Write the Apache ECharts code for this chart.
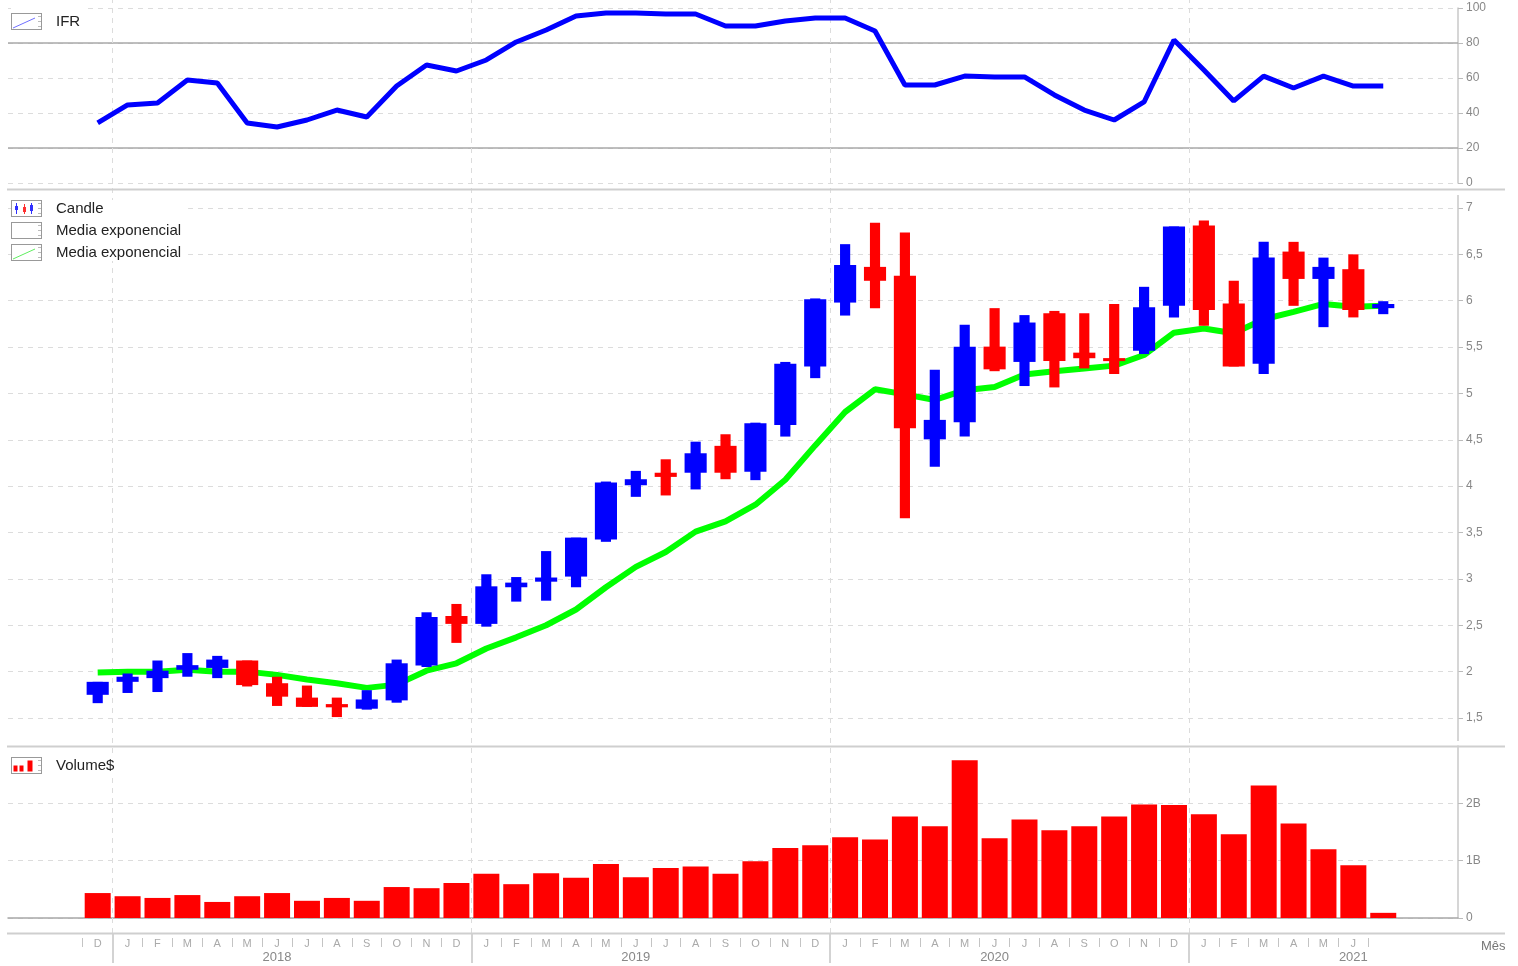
<!DOCTYPE html>
<html>
<head>
<meta charset="utf-8">
<title>IFR / Candle / Volume</title>
<script src="https://cdn.jsdelivr.net/npm/echarts@6/dist/echarts.min.js"></script>
<style>
  html, body { margin: 0; padding: 0; background: #fff; }
  #chart { width: 1518px; height: 966px; }
</style>
</head>
<body>
<div id="chart"></div>
<script>
// meses (dez/2017 .. jul/2021)
const months = [
  '2017-12',
  '2018-01', '2018-02', '2018-03', '2018-04', '2018-05', '2018-06',
  '2018-07', '2018-08', '2018-09', '2018-10', '2018-11', '2018-12',
  '2019-01', '2019-02', '2019-03', '2019-04', '2019-05', '2019-06',
  '2019-07', '2019-08', '2019-09', '2019-10', '2019-11', '2019-12',
  '2020-01', '2020-02', '2020-03', '2020-04', '2020-05', '2020-06',
  '2020-07', '2020-08', '2020-09', '2020-10', '2020-11', '2020-12',
  '2021-01', '2021-02', '2021-03', '2021-04', '2021-05', '2021-06',
  '2021-07'
]
// [abertura, fechamento, minima, maxima]
const candles = [
  [1.75, 1.89, 1.66, 1.89], [1.89, 1.945, 1.77, 1.98], [1.93, 2.01, 1.78, 2.12],
  [2.02, 2.07, 1.945, 2.20], [2.04, 2.13, 1.93, 2.17], [2.12, 1.855, 1.84, 2.12],
  [1.875, 1.73, 1.63, 1.945], [1.72, 1.62, 1.62, 1.85], [1.65, 1.615, 1.51, 1.72],
  [1.60, 1.70, 1.59, 1.80], [1.69, 2.09, 1.665, 2.13], [2.065, 2.59, 2.05, 2.64],
  [2.60, 2.515, 2.31, 2.73], [2.515, 2.92, 2.485, 3.05], [2.91, 2.96, 2.755, 3.02],
  [2.97, 3.015, 2.765, 3.30], [3.025, 3.445, 2.91, 3.445], [3.425, 4.04, 3.40, 4.05],
  [4.01, 4.075, 3.885, 4.165], [4.145, 4.10, 3.90, 4.29], [4.145, 4.355, 3.965, 4.48],
  [4.435, 4.145, 4.075, 4.56], [4.155, 4.68, 4.065, 4.685], [4.66, 5.32, 4.535, 5.34],
  [5.29, 6.015, 5.165, 6.025], [5.98, 6.385, 5.84, 6.61], [6.365, 6.215, 5.92, 6.84],
  [6.27, 4.625, 3.655, 6.735], [4.505, 4.715, 4.21, 5.255], [4.69, 5.505, 4.535, 5.74],
  [5.505, 5.26, 5.24, 5.92], [5.34, 5.765, 5.08, 5.845], [5.865, 5.35, 5.065, 5.89],
  [5.44, 5.38, 5.27, 5.865], [5.38, 5.35, 5.21, 5.965], [5.46, 5.93, 5.425, 6.15],
  [5.945, 6.80, 5.82, 6.80], [6.81, 5.90, 5.73, 6.865], [5.97, 5.29, 5.29, 6.215],
  [5.32, 6.465, 5.21, 6.635], [6.53, 6.235, 5.945, 6.635], [6.235, 6.365, 5.715, 6.465],
  [6.34, 5.90, 5.82, 6.50], [5.92, 5.965, 5.855, 5.995]
]
const ema = [
  1.99, 2.0, 2.0, 2.02, 2.0, 2.0, 1.965, 1.915, 1.875, 1.825, 1.86,
  2.01, 2.09, 2.25, 2.37, 2.5, 2.67, 2.91, 3.13, 3.29, 3.51, 3.62,
  3.80, 4.07, 4.44, 4.80, 5.045, 4.99, 4.93, 5.035, 5.07, 5.205, 5.24,
  5.27, 5.30, 5.415, 5.655, 5.70, 5.65, 5.80, 5.88, 5.965, 5.935, 5.945
]
const ifr = [
  34.3, 44.6, 45.7, 58.9, 57.1, 34.3, 32, 36, 41.7, 37.7, 55.4,
  67.4, 64, 70.3, 80.6, 87.4, 95.4, 97.1, 97.1, 96.6, 96.6, 89.7,
  89.7, 92.6, 94.3, 94.3, 86.9, 56, 56, 61.1, 60.6, 60.6, 50.3,
  41.7, 36, 46.3, 81.7, 64.6, 46.9, 61.1, 54.3, 61.1, 55.4, 55.4
]
// volume em milhoes de R$
const volume = [
  435, 380, 350, 400, 280, 380, 435, 300, 350, 300, 540,
  520, 610, 770, 590, 780, 700, 940, 710, 870, 900, 770,
  990, 1220, 1270, 1410, 1370, 1770, 1600, 2750, 1390, 1720, 1530,
  1600, 1770, 1980, 1970, 1810, 1460, 2310, 1650, 1200, 920, 90
]
const ifrLevels = [20, 80]
const monthLetters = 'JFMAMJJASOND'
const labelMonths = months.slice(0, 43)   // o mes corrente nao tem rotulo

const FONT = 'Liberation Sans, Arial, sans-serif'
const BLUE = '#0000ff', RED = '#ff0000', GREEN = '#00ff00'
const X_MIN = -3, X_MAX = 45.5
const LEFT = 8, RIGHT = 60

const yearBounds = months
  .map((m, i) => m.endsWith('-01') ? i - 0.5 : null)
  .filter(v => v !== null)

function icon(inner) {
  const svg = "<svg xmlns='http://www.w3.org/2000/svg' width='40' height='17'>" +
    "<rect x='0.5' y='0.5' width='30' height='16' fill='white' stroke='#999'/>" +
    "<path d='M27 3.5h3M27 8.5h3M27 13.5h3' stroke='#bbb'/>" + inner + "</svg>"
  return 'image://data:image/svg+xml;charset=utf-8,' + encodeURIComponent(svg)
}
const icons = {
  ifr: icon("<line x1='2' y1='15' x2='24' y2='5' stroke='#7070ff'/>"),
  candle: icon(
    "<rect x='4' y='6' width='3' height='4' fill='#3030ff'/><path d='M5.5 3v11' stroke='#3030ff'/>" +
    "<rect x='12' y='7' width='3' height='5' fill='#ff3030'/><path d='M13.5 4v10' stroke='#ff3030'/>" +
    "<rect x='19' y='5' width='3' height='6' fill='#3030ff'/><path d='M20.5 3v11' stroke='#3030ff'/>"),
  empty: icon(''),
  ema: icon("<line x1='2' y1='15' x2='24' y2='5' stroke='#60ee60'/>"),
  volume: icon(
    "<rect x='2.5' y='8.5' width='4' height='6' fill='red'/>" +
    "<rect x='8.5' y='8.5' width='4' height='6' fill='red'/>" +
    "<rect x='16.5' y='3.5' width='5' height='11' fill='red'/>")
}

function renderCandle(params, api) {
  const i = api.value(0)
  const open = api.value(1), close = api.value(2)
  const pOpen = api.coord([i, open])
  const pClose = api.coord([i, close])
  const pLow = api.coord([i, api.value(3)])
  const pHigh = api.coord([i, api.value(4)])
  const unit = api.size([1, 0])[0]
  const bodyW = unit * 0.74
  const wickW = unit * 0.34
  const x = pOpen[0]
  let top = Math.min(pOpen[1], pClose[1])
  let bottom = Math.max(pOpen[1], pClose[1])
  if (bottom - top < 3) {
    const mid = (top + bottom) / 2
    top = mid - 1.5
    bottom = mid + 1.5
  }
  const color = close >= open ? BLUE : RED
  return {
    type: 'group',
    children: [
      { type: 'rect', shape: { x: x - wickW / 2, y: pHigh[1], width: wickW, height: pLow[1] - pHigh[1] }, style: { fill: color } },
      { type: 'rect', shape: { x: x - bodyW / 2, y: top, width: bodyW, height: bottom - top }, style: { fill: color } }
    ]
  }
}

const splitDash = { show: true, lineStyle: { color: '#dcdcdc', type: [5, 5], width: 1 } }
const rightAxisBase = {
  type: 'value',
  position: 'right',
  axisLine: { show: true, onZero: false, lineStyle: { color: '#c8c8c8', width: 1.5 } },
  axisTick: { show: true, length: 5, lineStyle: { color: '#bbb' } },
  axisLabel: { color: '#888', fontSize: 12, margin: 8, fontFamily: FONT },
  splitLine: splitDash
}
const hiddenValueX = (gridIndex) => ({ type: 'value', gridIndex, min: X_MIN, max: X_MAX, show: false })
const hiddenY = (gridIndex) => ({ type: 'value', gridIndex, min: 0, max: 1, show: false })

const legendBase = {
  orient: 'vertical',
  left: 11,
  itemWidth: 40,
  itemHeight: 17,
  itemGap: 5,
  selectedMode: false,
  backgroundColor: '#fff',
  textStyle: { color: '#222', fontSize: 15, fontFamily: FONT }
}

const option = {
  animation: false,
  textStyle: { fontFamily: FONT },
  title: {
    text: 'Mês', left: 1481, top: 940, padding: 0,
    textStyle: { color: '#777', fontSize: 13, fontWeight: 'normal', fontFamily: FONT }
  },
  legend: [
    Object.assign({}, legendBase, { top: 7, padding: [6, 7, 6, 0], data: [{ name: 'IFR', icon: icons.ifr }] }),
    Object.assign({}, legendBase, {
      top: 200, padding: [0, 7, 0, 0],
      data: [
        { name: 'Candle', icon: icons.candle },
        { name: 'Media exponencial (2)', icon: icons.empty },
        { name: 'Media exponencial', icon: icons.ema }
      ],
      formatter: name => name.replace(' (2)', '')
    }),
    Object.assign({}, legendBase, { top: 757, padding: [0, 7, 0, 0], data: [{ name: 'Volume$', icon: icons.volume }] })
  ],
  grid: [
    { left: LEFT, right: RIGHT, top: 8, height: 175 },     // IFR
    { left: LEFT, right: RIGHT, top: 208, height: 510 },   // candles
    { left: LEFT, right: RIGHT, top: 746, height: 172 },   // volume
    { left: LEFT, right: RIGHT, top: 0, height: 933 },     // linhas de ano
    { left: LEFT, right: RIGHT, top: 934, height: 29 },    // linhas de ano no eixo
    { left: 82.74, right: 149.7, top: 936, height: 2 }     // rotulos dos meses
  ],
  xAxis: [
    hiddenValueX(0),
    hiddenValueX(1),
    {
      type: 'value', gridIndex: 2, min: X_MIN, max: X_MAX,
      axisLine: { show: true, onZero: false, lineStyle: { color: '#a8a8a8', width: 1.5 } },
      axisTick: { show: false }, axisLabel: { show: false }, splitLine: { show: false }
    },
    hiddenValueX(3),
    hiddenValueX(4),
    {
      type: 'category', gridIndex: 5, position: 'bottom', data: labelMonths,
      axisLine: { show: false },
      axisTick: { show: true, length: 9, interval: (idx, val) => !val.endsWith('-01'), lineStyle: { color: '#c4c4c4' } },
      axisLabel: {
        interval: 0, margin: 0, color: '#aaa', fontSize: 11, fontFamily: FONT,
        formatter: v => monthLetters[Number(v.slice(5)) - 1]
      },
      splitLine: { show: false }
    },
    {
      type: 'category', gridIndex: 5, position: 'bottom', offset: 0, data: labelMonths,
      axisLine: { show: false }, axisTick: { show: false },
      axisLabel: {
        interval: 0, margin: 13, color: '#888', fontSize: 13, fontFamily: FONT,
        formatter: v => v.endsWith('-06') ? v.slice(0, 4) : ''
      },
      splitLine: { show: false }
    }
  ],
  yAxis: [
    Object.assign({}, rightAxisBase, { gridIndex: 0, min: 0, max: 100, interval: 20 }),
    Object.assign({}, rightAxisBase, {
      gridIndex: 1, min: 1.5, max: 7, interval: 0.5,
      axisLine: { show: false, onZero: false },
      axisLabel: Object.assign({}, rightAxisBase.axisLabel, { formatter: v => String(v).replace('.', ',') })
    }),
    Object.assign({}, rightAxisBase, {
      gridIndex: 2, min: 0, max: 3000, interval: 1000,
      axisLabel: Object.assign({}, rightAxisBase.axisLabel, {
        formatter: v => v === 0 ? '0' : (v >= 3000 ? '' : v / 1000 + 'B')
      })
    }),
    hiddenY(3),
    hiddenY(4),
    hiddenY(5)
  ],
  series: [
    {
      name: 'IFR', type: 'line', xAxisIndex: 0, yAxisIndex: 0,
      data: ifr.map((v, i) => [i, v]),
      symbol: 'none', z: 3,
      lineStyle: { color: BLUE, width: 5 },
      itemStyle: { color: BLUE },
      markLine: {
        silent: true, z: 1, symbol: ['none', 'none'], label: { show: false },
        lineStyle: { color: '#a8a8a8', type: 'solid', width: 1.5 },
        data: ifrLevels.map(v => ({ yAxis: v }))
      }
    },
    {
      name: 'Media exponencial (2)', type: 'line', xAxisIndex: 1, yAxisIndex: 1,
      data: [], symbol: 'none'
    },
    {
      name: 'Media exponencial', type: 'line', xAxisIndex: 1, yAxisIndex: 1,
      data: ema.map((v, i) => [i, v]),
      symbol: 'none', z: 2,
      lineStyle: { color: GREEN, width: 6 },
      itemStyle: { color: GREEN }
    },
    {
      name: 'Candle', type: 'custom', xAxisIndex: 1, yAxisIndex: 1, z: 3,
      renderItem: renderCandle,
      encode: { x: 0, y: [1, 2, 3, 4] },
      itemStyle: { color: BLUE },
      data: candles.map((c, i) => [i].concat(c))
    },
    {
      name: 'Volume$', type: 'bar', xAxisIndex: 2, yAxisIndex: 2,
      barWidth: 26,
      itemStyle: { color: RED },
      data: volume.map((v, i) => [i, v])
    },
    {
      type: 'line', xAxisIndex: 3, yAxisIndex: 3, data: [],
      markLine: {
        silent: true, z: 1, symbol: ['none', 'none'], label: { show: false },
        lineStyle: { color: '#dcdcdc', type: [5, 5], width: 1 },
        data: yearBounds.map(v => ({ xAxis: v }))
      }
    },
    {
      type: 'line', xAxisIndex: 4, yAxisIndex: 4, data: [],
      markLine: {
        silent: true, symbol: ['none', 'none'], label: { show: false },
        lineStyle: { color: '#c4c4c4', type: 'solid', width: 1.5 },
        data: yearBounds.map(v => ({ xAxis: v }))
      }
    }
  ],
  graphic: [
    { type: 'line', z: 10, silent: true, shape: { x1: 7, y1: 189.5, x2: 1505, y2: 189.5 }, style: { stroke: '#cfcfcf', lineWidth: 2 } },
    { type: 'line', z: 10, silent: true, shape: { x1: 7, y1: 746.5, x2: 1505, y2: 746.5 }, style: { stroke: '#cfcfcf', lineWidth: 2 } },
    { type: 'line', z: 10, silent: true, shape: { x1: 7, y1: 933.5, x2: 1505, y2: 933.5 }, style: { stroke: '#cfcfcf', lineWidth: 2 } },
    { type: 'line', z: 10, silent: true, shape: { x1: 1458, y1: 195, x2: 1458, y2: 741 }, style: { stroke: '#c8c8c8', lineWidth: 1.5 } }
  ]
}

const chart = echarts.init(document.getElementById('chart'))
chart.setOption(option)
</script>
</body>
</html>
